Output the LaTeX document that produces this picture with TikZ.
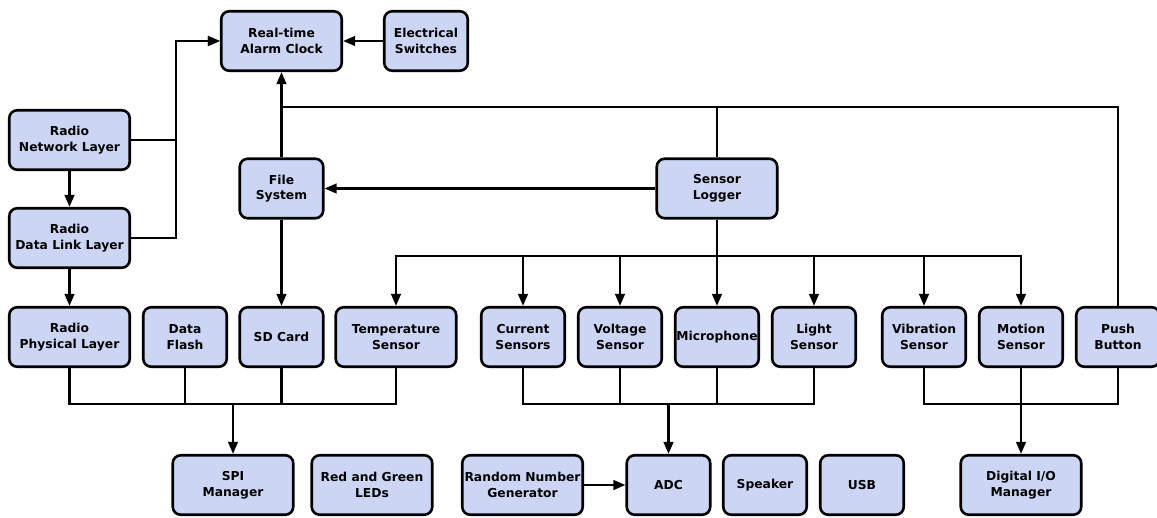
\documentclass[tikz,border=0pt]{standalone}
\usepackage{fontspec}
\setmainfont{DejaVu Sans}
\usetikzlibrary{arrows.meta}
\definecolor{boxfill}{RGB}{204,214,244}
\begin{document}
\begin{tikzpicture}[x=1pt,y=-1pt,
  box/.style={draw=black, line width=2.6pt, rounded corners=8pt, fill=boxfill,
    align=center, minimum height=59.5pt, inner sep=1pt,
    font=\fontsize{12.3}{15.7}\selectfont\bfseries},
  wide/.style={box, minimum width=120.5pt},
  narrow/.style={box, minimum width=83.5pt},
  conn/.style={line width=2.5pt},
  arr/.style={conn, -{Triangle[length=12pt,width=9.5pt]}}]
\fill[white] (0,0) rectangle (1157,517);
\useasboundingbox (0,0) rectangle (1157,517);

% top area
\node[wide]   (rtc)  at (281.5,41)  {Real-time\\Alarm Clock};
\node[narrow] (es)   at (426,41)    {Electrical\\Switches};
\node[wide]   (net)  at (69.5,140)  {Radio\\Network Layer};
\node[wide]   (dll)  at (69.5,238)  {Radio\\Data Link Layer};
\node[narrow] (fs)   at (281.5,188.5) {File\\System};
\node[wide]   (sl)   at (717,188.5) {Sensor\\Logger};

% middle row
\node[wide]   (rpl)  at (69.5,337)  {Radio\\Physical Layer};
\node[narrow] (df)   at (185,337)   {Data\\Flash};
\node[narrow] (sd)   at (281.5,337) {SD Card};
\node[wide]   (temp) at (396,337)   {Temperature\\Sensor};
\node[narrow] (cur)  at (523,337)   {Current\\Sensors};
\node[narrow] (volt) at (620,337)   {Voltage\\Sensor};
\node[narrow] (mic)  at (717,337)   {Microphone};
\node[narrow] (light) at (814,337)  {Light\\Sensor};
\node[narrow] (vib)  at (924,337)   {Vibration\\Sensor};
\node[narrow] (mot)  at (1021,337)  {Motion\\Sensor};
\node[narrow] (pb)   at (1118,337)  {Push\\Button};

% bottom row
\node[wide]   (spi)  at (233,485)   {SPI\\Manager};
\node[wide]   (leds) at (372,485)   {Red and Green\\LEDs};
\node[wide]   (rng)  at (522.5,485) {Random Number\\Generator};
\node[narrow] (adc)  at (668.5,485) {ADC};
\node[narrow] (spk)  at (765,485)   {Speaker};
\node[narrow] (usb)  at (862,485)   {USB};
\node[wide]   (dio)  at (1021,485)  {Digital I/O\\Manager};

% connectors: top
\draw[arr] (es.west) -- (rtc.east);
\draw[arr] (net.east) -- ++(45,0) |- (rtc.west);
\draw[arr] (dll.east) -- ++(45,0) |- (rtc.west);
\draw[arr] (net.south) -- (dll.north);
\draw[arr] (dll.south) -- (rpl.north);
\draw[arr] (fs.north) -- (rtc.south);
\coordinate (J) at (rtc.south |- 0,107);
\draw[conn] (sl.north) |- (J);
\draw[conn] (pb.north) |- (J);
\draw[arr] (sl.west) -- (fs.east);
\draw[arr] (fs.south) -- (sd.north);

% sensor logger bus
\coordinate (S) at (sl.south |- 0,256);
\draw[conn] (sl.south) -- (S);
\draw[arr] (S) -| (temp.north);
\draw[arr] (S) -| (mot.north);
\draw[arr] (cur.north |- S) -- (cur.north);
\draw[arr] (volt.north |- S) -- (volt.north);
\draw[arr] (S) -- (mic.north);
\draw[arr] (light.north |- S) -- (light.north);
\draw[arr] (vib.north |- S) -- (vib.north);

% SPI bus
\coordinate (B1) at (spi.north |- 0,404);
\draw[conn] (rpl.south) |- (B1) -| (temp.south);
\draw[conn] (df.south) -- (df.south |- B1);
\draw[conn] (sd.south) -- (sd.south |- B1);
\draw[arr] (B1) -- (spi.north);

% ADC bus
\coordinate (B2) at (adc.north |- 0,404);
\draw[conn] (cur.south) |- (B2) -| (light.south);
\draw[conn] (volt.south) -- (volt.south |- B2);
\draw[conn] (mic.south) -- (mic.south |- B2);
\draw[arr] (B2) -- (adc.north);
\draw[arr] (rng.east) -- (adc.west);

% Digital I/O bus
\coordinate (B3) at (mot.south |- 0,404);
\draw[conn] (vib.south) |- (B3) -| (pb.south);
\draw[arr] (mot.south) -- (dio.north);
\end{tikzpicture}
\end{document}
